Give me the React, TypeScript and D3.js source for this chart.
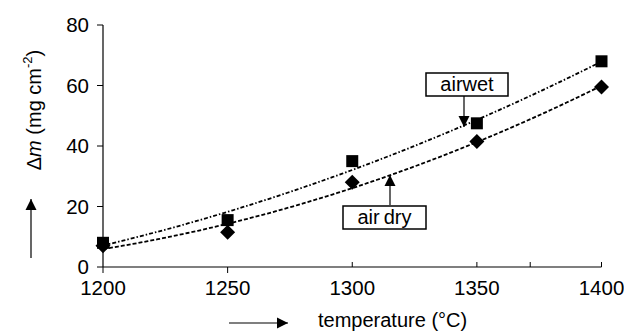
import { useRef, useEffect } from 'react'
import * as d3 from 'd3'

const temps = [1200, 1250, 1300, 1350, 1400]
const airWet = [8, 15.5, 35, 47.5, 68]
const airDry = [7, 11.5, 28, 41.5, 59.5]
const yTicks = [0, 20, 40, 60, 80]
const xTicksDown = [1200, 1250]
const xTicksUp = [1300, 1350, 1371.4, 1400]
const xLabels = [1200, 1250, 1300, 1350, 1400]

const W = 624
const H = 331
const FONT = 'Liberation Sans, Arial, sans-serif'

// 2nd order least squares, like the spreadsheet trendline
function polyFit(xs: number[], ys: number[]) {
  const m = d3.mean(xs) as number
  const u = xs.map((x) => (x - m) / 50)
  const n = u.length
  let s1 = 0, s2 = 0, s3 = 0, s4 = 0, t0 = 0, t1 = 0, t2 = 0
  u.forEach((x, i) => {
    s1 += x; s2 += x * x; s3 += x * x * x; s4 += x * x * x * x
    t0 += ys[i]; t1 += x * ys[i]; t2 += x * x * ys[i]
  })
  const A = [[n, s1, s2], [s1, s2, s3], [s2, s3, s4]]
  const b = [t0, t1, t2]
  // gaussian elimination
  for (let i = 0; i < 3; i++) {
    for (let j = i + 1; j < 3; j++) {
      const f = A[j][i] / A[i][i]
      for (let k = i; k < 3; k++) A[j][k] -= f * A[i][k]
      b[j] -= f * b[i]
    }
  }
  const c = [0, 0, 0]
  for (let i = 2; i >= 0; i--) {
    let s = b[i]
    for (let k = i + 1; k < 3; k++) s -= A[i][k] * c[k]
    c[i] = s / A[i][i]
  }
  return (x: number) => {
    const v = (x - m) / 50
    return c[0] + c[1] * v + c[2] * v * v
  }
}

function drawChart(target: SVGSVGElement) {
  const svg = d3.select(target)
  svg.selectAll('*').remove()

  const x = d3.scaleLinear().domain([1200, 1400]).range([103, 601.5])
  const y = d3.scaleLinear().domain([0, 80]).range([267, 25])

  const defs = svg.append('defs')
  defs
    .append('marker')
    .attr('id', 'head')
    .attr('viewBox', '0 0 10 10')
    .attr('refX', 10)
    .attr('refY', 5)
    .attr('markerWidth', 11)
    .attr('markerHeight', 12)
    .attr('markerUnits', 'userSpaceOnUse')
    .attr('orient', 'auto')
    .append('path')
    .attr('d', 'M0,0 L10,5 L0,10 Z')
    .attr('fill', '#000')

  const g = svg.append('g')

  // axes
  g.append('line').attr('x1', x(1200)).attr('x2', x(1400)).attr('y1', y(0)).attr('y2', y(0)).attr('stroke', '#000').attr('stroke-width', 1.2)
  g.append('line').attr('x1', x(1200)).attr('x2', x(1200)).attr('y1', y(0)).attr('y2', y(80)).attr('stroke', '#000').attr('stroke-width', 1.2)

  g.selectAll('.ytick')
    .data(yTicks)
    .enter()
    .append('line')
    .attr('x1', x(1200) - 6)
    .attr('x2', x(1200))
    .attr('y1', (d) => y(d))
    .attr('y2', (d) => y(d))
    .attr('stroke', '#000')

  g.selectAll('.ylab')
    .data(yTicks)
    .enter()
    .append('text')
    .attr('x', 89)
    .attr('y', (d) => y(d) + 7)
    .attr('text-anchor', 'end')
    .attr('font-family', FONT)
    .attr('font-size', 20.5)
    .text((d) => d)

  g.selectAll('.xtickd')
    .data(xTicksDown)
    .enter()
    .append('line')
    .attr('x1', (d) => x(d))
    .attr('x2', (d) => x(d))
    .attr('y1', y(0))
    .attr('y2', y(0) + 6)
    .attr('stroke', '#000')

  g.selectAll('.xticku')
    .data(xTicksUp)
    .enter()
    .append('line')
    .attr('x1', (d) => x(d))
    .attr('x2', (d) => x(d))
    .attr('y1', y(0))
    .attr('y2', y(0) - 5)
    .attr('stroke', '#000')

  g.selectAll('.xlab')
    .data(xLabels)
    .enter()
    .append('text')
    .attr('x', (d) => x(d))
    .attr('y', 295)
    .attr('text-anchor', 'middle')
    .attr('font-family', FONT)
    .attr('font-size', 20.5)
    .text((d) => d)

  // trendlines
  const xs = d3.range(1200, 1400.1, 2)
  const line = d3
    .line<number[]>()
    .x((d) => x(d[0]))
    .y((d) => y(d[1]))

  const fitWet = polyFit(temps, airWet)
  const fitDry = polyFit(temps, airDry)

  g.append('path')
    .attr('d', line(xs.map((t) => [t, fitWet(t)])))
    .attr('fill', 'none')
    .attr('stroke', '#000')
    .attr('stroke-width', 1.8)
    .attr('stroke-dasharray', '4,2,1.5,2')

  g.append('path')
    .attr('d', line(xs.map((t) => [t, fitDry(t)])))
    .attr('fill', 'none')
    .attr('stroke', '#000')
    .attr('stroke-width', 1.8)
    .attr('stroke-dasharray', '4,2')

  // markers
  g.selectAll('.sq')
    .data(temps)
    .enter()
    .append('rect')
    .attr('x', (d) => x(d) - 6)
    .attr('y', (d, i) => y(airWet[i]) - 6)
    .attr('width', 12)
    .attr('height', 12)
    .attr('fill', '#000')

  g.selectAll('.dm')
    .data(temps)
    .enter()
    .append('path')
    .attr('d', 'M0,-7.5L7.5,0L0,7.5L-7.5,0Z')
    .attr('transform', (d, i) => `translate(${x(d)},${y(airDry[i])})`)
    .attr('fill', '#000')

  // callouts
  const callout = (label: string, bx: number, by: number, bw: number, ax: number, ay1: number, ay2: number) => {
    g.append('line')
      .attr('x1', ax)
      .attr('x2', ax)
      .attr('y1', ay1)
      .attr('y2', ay2)
      .attr('stroke', '#000')
      .attr('stroke-width', 1.2)
      .attr('marker-end', 'url(#head)')
    g.append('rect')
      .attr('x', bx)
      .attr('y', by)
      .attr('width', bw)
      .attr('height', 23)
      .attr('fill', '#fff')
      .attr('stroke', '#000')
      .attr('stroke-width', 1.5)
    g.append('text')
      .attr('x', bx + bw / 2)
      .attr('y', by + 18)
      .attr('text-anchor', 'middle')
      .attr('font-family', FONT)
      .attr('font-size', 20)
      .text(label)
  }
  callout('airwet', 426, 73, 82, 464, 96, 127)
  callout('air\u2009dry', 343, 206, 83, 390, 205, 175)

  // axis titles
  const yt = g
    .append('text')
    .attr('transform', 'translate(41,110) rotate(-90)')
    .attr('text-anchor', 'middle')
    .attr('font-family', FONT)
    .attr('font-size', 20)
  yt.append('tspan').text('Δ')
  yt.append('tspan').attr('font-style', 'italic').text('m')
  yt.append('tspan').text(' (mg cm')
  yt.append('tspan').attr('font-size', 13).attr('dy', -9).text('-2')
  yt.append('tspan').attr('dy', 9).text(')')

  g.append('line').attr('x1', 31).attr('x2', 31).attr('y1', 258).attr('y2', 199).attr('stroke', '#000').attr('stroke-width', 1.2).attr('marker-end', 'url(#head)')
  g.append('line').attr('x1', 229).attr('x2', 288).attr('y1', 323).attr('y2', 323).attr('stroke', '#000').attr('stroke-width', 1.2).attr('marker-end', 'url(#head)')

  g.append('text')
    .attr('x', 318)
    .attr('y', 327)
    .attr('font-family', FONT)
    .attr('font-size', 20)
    .text('temperature (°C)')
}

export default function App() {
  const ref = useRef<SVGSVGElement>(null)
  useEffect(() => {
    if (ref.current) drawChart(ref.current)
  }, [])
  return (
    <svg ref={ref} width={W} height={H} style={{ position: 'absolute', left: 0, top: 0, background: '#fff' }} />
  )
}
